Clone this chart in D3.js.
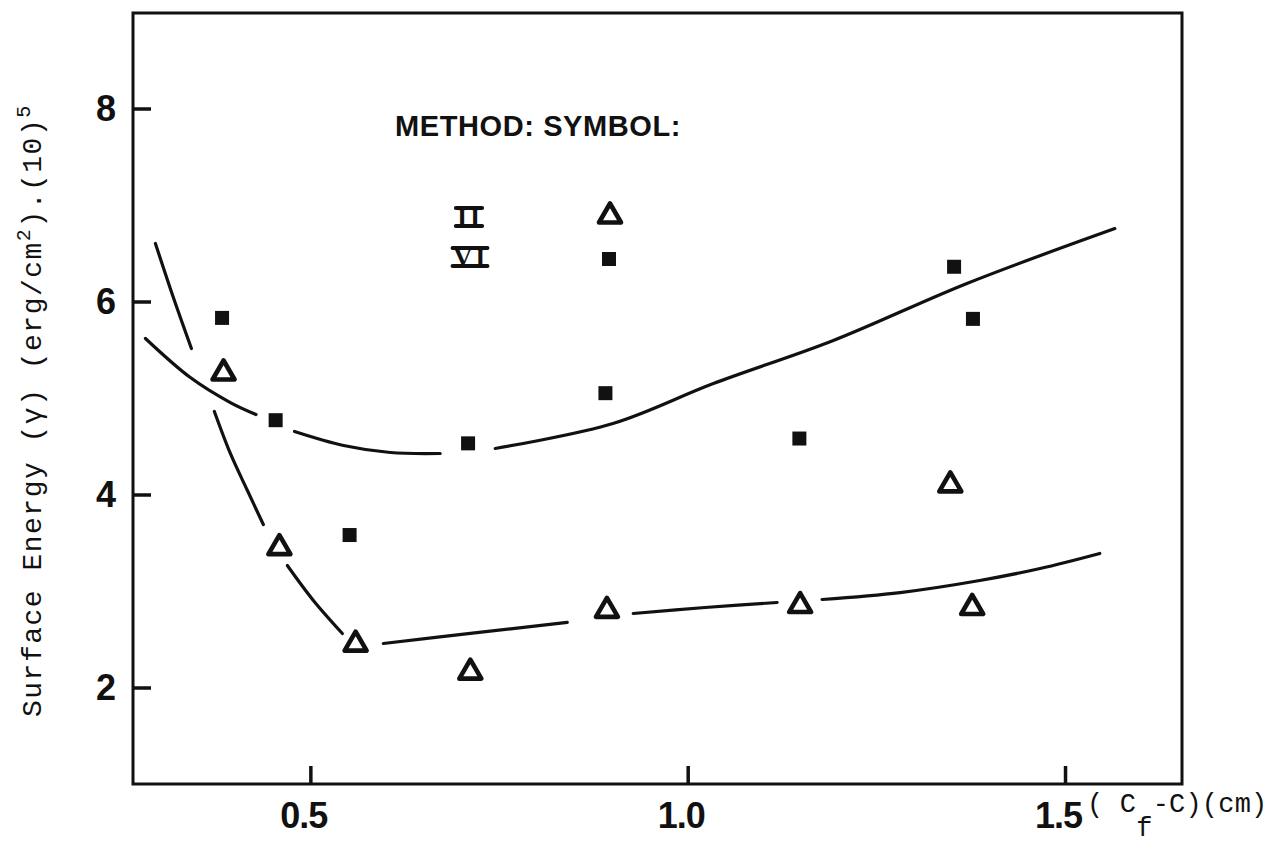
<!DOCTYPE html>
<html>
<head>
<meta charset="utf-8">
<script src="https://cdn.jsdelivr.net/npm/d3@7"></script>
<style>
  html, body { margin: 0; padding: 0; background: #fff; }
  svg { display: block; }
</style>
</head>
<body>
<svg id="chart" width="1275" height="846"></svg>
<script>
// Surface energy vs. crack length difference, two measurement methods

// Method VI (filled squares)
const squareX = [0.383, 0.454, 0.552, 0.709, 0.891, 1.148, 1.353, 1.378];
const squareY = [5.83, 4.77, 3.58, 4.53, 5.05, 4.58, 6.36, 5.82];

// Method II (open triangles)
const triangleX = [0.385, 0.459, 0.560, 0.712, 0.893, 1.149, 1.348, 1.377];
const triangleY = [5.28, 3.47, 2.47, 2.18, 2.82, 2.87, 4.12, 2.85];

// Hand-drawn trend curves, broken where they pass the symbols
const upperCurve = [
  [[0.2815, 5.617], [0.341, 5.212], [0.394, 4.953], [0.428, 4.829]],
  [[0.479, 4.653], [0.544, 4.508], [0.606, 4.435], [0.672, 4.425]],
  [[0.745, 4.477], [0.901, 4.736], [1.034, 5.150], [1.193, 5.596], [1.370, 6.187], [1.566, 6.756]]
];
const lowerCurve = [
  [[0.2947, 6.601], [0.3185, 6.041], [0.3424, 5.513]],
  [[0.3728, 4.860], [0.394, 4.425], [0.4166, 4.041], [0.4377, 3.689]],
  [[0.4695, 3.264], [0.504, 2.902], [0.5424, 2.560]],
  [[0.5967, 2.456], [0.712, 2.560], [0.8404, 2.674]],
  [[0.9278, 2.767], [1.023, 2.829], [1.1185, 2.881]],
  [[1.178, 2.912], [1.2815, 2.984], [1.387, 3.109], [1.467, 3.233], [1.546, 3.389]]
];

const xTicks = [0.5, 1.0, 1.5];
const yTicks = [2, 4, 6, 8];

const INK = "#111";
const svg = d3.select("#chart");

const x = d3.scaleLinear().domain([0.265, 1.655]).range([133, 1182]);
const y = d3.scaleLinear().domain([1, 9]).range([784, 12]);

// Frame
svg.append("rect")
  .attr("x", x.range()[0]).attr("y", y.range()[1] + 1)
  .attr("width", x.range()[1] - x.range()[0])
  .attr("height", y.range()[0] - y.range()[1] - 1)
  .attr("fill", "none").attr("stroke", INK).attr("stroke-width", 3);

// Axes with inward ticks
const yAxis = svg.append("g")
  .attr("transform", `translate(${x.range()[0]},0)`)
  .call(d3.axisLeft(y).tickValues(yTicks).tickSize(-18).tickPadding(17).tickFormat(d3.format("d")));
const xAxis = svg.append("g")
  .attr("transform", `translate(0,${y.range()[0]})`)
  .call(d3.axisBottom(x).tickValues(xTicks).tickSize(-18).tickPadding(18).tickFormat(d3.format(".1f")));

[yAxis, xAxis].forEach(g => {
  g.select(".domain").remove();
  g.selectAll(".tick line").attr("stroke", INK).attr("stroke-width", 3.5);
  g.selectAll(".tick text")
    .attr("fill", INK)
    .style("font-family", "'Liberation Sans', Arial, sans-serif")
    .style("font-weight", "bold")
    .style("font-size", "36px");
});
xAxis.selectAll(".tick text").attr("dx", -7).style("letter-spacing", "-1px");

// Trend curves
const line = d3.line()
  .x(d => x(d[0])).y(d => y(d[1]))
  .curve(d3.curveCatmullRom.alpha(0.5));

svg.append("g").selectAll("path")
  .data(upperCurve.concat(lowerCurve))
  .join("path")
  .attr("d", line)
  .attr("fill", "none")
  .attr("stroke", INK)
  .attr("stroke-width", 3.2)
  .attr("stroke-linecap", "round");

// Symbols
const SQ = 14;
const triPath = "M0,-10.5 L11,8.5 L-11,8.5 Z";

function drawSquare(g, cx, cy) {
  g.append("rect")
    .attr("x", cx - SQ / 2).attr("y", cy - SQ / 2)
    .attr("width", SQ).attr("height", SQ)
    .attr("fill", INK);
}
function drawTriangle(g, cx, cy) {
  g.append("path")
    .attr("d", triPath)
    .attr("transform", `translate(${cx},${cy})`)
    .attr("fill", "none")
    .attr("stroke", INK)
    .attr("stroke-width", 4.6)
    .attr("stroke-linejoin", "round");
}

const marks = svg.append("g");
squareX.forEach((v, i) => drawSquare(marks, x(v), y(squareY[i])));
triangleX.forEach((v, i) => drawTriangle(marks, x(v), y(triangleY[i])));

// Legend
const legend = svg.append("g");
legend.append("text")
  .attr("x", 395).attr("y", 136)
  .attr("fill", INK)
  .style("font-family", "'Liberation Sans', Arial, sans-serif")
  .style("font-weight", "bold")
  .style("font-size", "29px")
  .style("letter-spacing", "0.6px")
  .text("METHOD: SYMBOL:");

const legendRows = [
  { label: "II", cx: 470, cy: 217, symbol: "triangle" },
  { label: "VI", cx: 471, cy: 257, symbol: "square" }
];
legendRows.forEach(r => {
  const t = legend.append("text")
    .attr("x", r.cx).attr("y", r.cy + 9)
    .attr("text-anchor", "middle")
    .attr("fill", INK)
    .style("font-family", "'Liberation Serif', 'Times New Roman', serif")
    .style("font-weight", "bold")
    .style("font-size", "26px")
    .style("letter-spacing", "3px")
    .text(r.label);
  const bb = t.node().getBBox();
  [r.cy - 9, r.cy + 9].forEach(yy => {
    legend.append("line")
      .attr("x1", bb.x - 1).attr("x2", bb.x + bb.width - 1)
      .attr("y1", yy).attr("y2", yy)
      .attr("stroke", INK).attr("stroke-width", 4)
      .attr("stroke-linecap", "round");
  });
  if (r.symbol === "triangle") drawTriangle(legend, 610, r.cy - 3);
  else drawSquare(legend, 609, r.cy + 2);
});

// Axis titles (typewriter face)
const MONO = "'Liberation Mono', 'Courier New', monospace";

const yTitle = svg.append("text")
  .attr("transform", "translate(41,717) rotate(-90)")
  .attr("fill", INK)
  .style("font-family", MONO)
  .style("font-size", "28px")
  .style("letter-spacing", "1.5px");
yTitle.append("tspan").text("Surface Energy (\u03B3) (erg/cm");
yTitle.append("tspan").attr("dy", -11).style("font-size", "20px").text("2");
yTitle.append("tspan").attr("dy", 11).text(").(10)");
yTitle.append("tspan").attr("dy", -11).style("font-size", "20px").text("5");

const xTitle = svg.append("text")
  .attr("x", 1087).attr("y", 812)
  .attr("fill", INK)
  .style("font-family", MONO)
  .style("font-size", "27px")
  .style("letter-spacing", "0.2px");
xTitle.append("tspan").text("( C");
xTitle.append("tspan").attr("dy", 24).text("f");
xTitle.append("tspan").attr("dy", -24).text("-C)(cm)");
</script>
</body>
</html>
